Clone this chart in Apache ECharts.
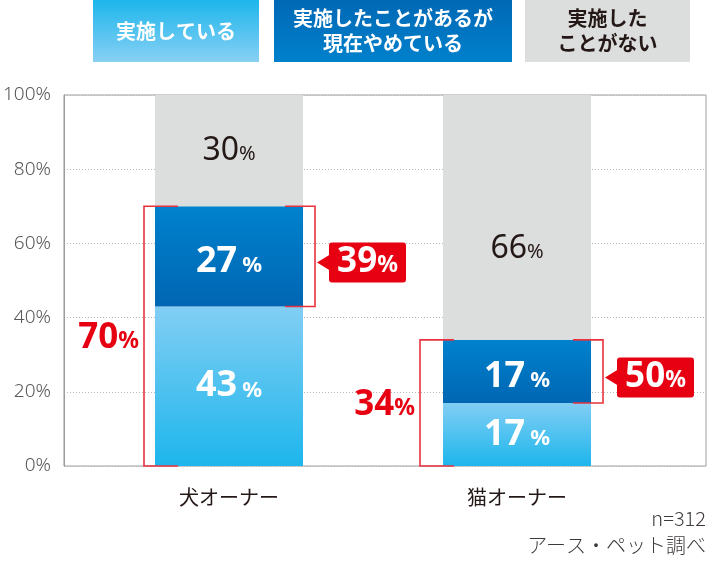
<!DOCTYPE html>
<html>
<head>
<meta charset="utf-8">
<script src="https://cdn.jsdelivr.net/npm/echarts@6/dist/echarts.min.js"></script>
<style>
  html, body { margin: 0; padding: 0; background: #fff; }
  #chart { width: 708px; height: 562px; }
</style>
</head>
<body>
<div id="chart"></div>
<script>
// data
const categories = ['犬オーナー', '猫オーナー'];
const seriesNames = ['実施している', '実施したことがあるが\n現在やめている', '実施した\nことがない'];
const doing = [43, 17];     // 実施している
const stopped = [27, 17];   // 実施したことがあるが現在やめている
const never = [30, 66];     // 実施したことがない
const yTicks = [0, 20, 40, 60, 80, 100];
const sampleNote = 'n=312';
const sourceNote = 'アース・ペット調べ';

const JP = '"Noto Sans CJK JP", "Noto Sans", sans-serif';
const NUM = '"Noto Sans", "Open Sans", sans-serif';
const RED = '#e60012';
const LINE_RED = '#e8333f';
const BAR_W = 148;

// brackets: total of used (left), share of stopped among experienced (right)
const brackets = [];
categories.forEach((c, i) => {
    const total = doing[i] + stopped[i];
    brackets.push([i, 0, total, 0, total]);
    brackets.push([i, doing[i], total, 1, Math.round(stopped[i] / total * 100)]);
});

const whiteRich = {
    n: { fontFamily: NUM, fontSize: 36, fontWeight: 'bold', color: '#fff', padding: [0, 5, 0, 0] },
    p: { fontFamily: NUM, fontSize: 22, fontWeight: 'bold', color: '#fff', padding: [8, 0, 0, 0] }
};
const grayRich = {
    n: { fontFamily: NUM, fontSize: 32, color: '#231815' },
    p: { fontFamily: NUM, fontSize: 20, color: '#231815', padding: [7, 0, 0, 0] }
};
// zrender text elements (custom series) take fill, not color
const redRich = {
    n: { fontFamily: NUM, fontSize: 35, fontWeight: 'bold', fill: RED },
    p: { fontFamily: NUM, fontSize: 23, fontWeight: 'bold', fill: RED, padding: [7, 0, 0, 0] }
};
const calloutRich = {
    n: { fontFamily: NUM, fontSize: 35, fontWeight: 'bold', fill: '#fff' },
    p: { fontFamily: NUM, fontSize: 23, fontWeight: 'bold', fill: '#fff', padding: [7, 0, 0, 0] }
};
const pct = v => '{n|' + v + '}{p|%}';

const LEFT_GAP = [11, 23];

function renderBracket(params, api) {
    const cat = api.value(0);
    const low = api.coord([cat, api.value(1)]);
    const high = api.coord([cat, api.value(2)]);
    const side = api.value(3);
    const label = api.value(4);
    const cx = low[0];
    const half = BAR_W / 2;
    const yMid = (low[1] + high[1]) / 2;
    const children = [];
    if (side === 0) {
        const xv = cx - half - LEFT_GAP[cat];
        const xe = xv + 34;
        children.push({
            type: 'polyline',
            shape: { points: [[xe, low[1]], [xv, low[1]], [xv, high[1]], [xe, high[1]]] },
            style: { stroke: LINE_RED, lineWidth: 1.6, fill: null }
        });
        children.push({
            type: 'text',
            style: { text: pct(label), rich: redRich, x: xv - 5, y: yMid + 2, align: 'right', verticalAlign: 'middle' }
        });
    } else {
        const xv = cx + half + 12;
        const xe = xv - 30;
        children.push({
            type: 'polyline',
            shape: { points: [[xe, low[1]], [xv, low[1]], [xv, high[1]], [xe, high[1]]] },
            style: { stroke: LINE_RED, lineWidth: 1.6, fill: null }
        });
        const bx = xv + 14, bw = 77, bh = 40, cy = yMid + 6;
        children.push({
            type: 'polygon',
            shape: { points: [[xv + 2, cy], [bx + 1, cy - 8], [bx + 1, cy + 8]] },
            style: { fill: RED }
        });
        children.push({
            type: 'rect',
            shape: { x: bx, y: cy - bh / 2, width: bw, height: bh, r: 3 },
            style: { fill: RED }
        });
        children.push({
            type: 'text',
            style: { text: pct(label), rich: calloutRich, x: bx + bw / 2, y: cy, align: 'center', verticalAlign: 'middle' }
        });
    }
    return { type: 'group', children: children };
}

function legendBox(x, w, fill, color, text) {
    return {
        type: 'group',
        children: [
            { type: 'rect', shape: { x: x, y: 0, width: w, height: 62 }, style: { fill: fill } },
            {
                type: 'text',
                style: {
                    text: text, x: x + w / 2, y: 31, align: 'center', verticalAlign: 'middle',
                    fill: color, font: 'bold 20px ' + JP, lineHeight: 25
                }
            }
        ]
    };
}

const chart = echarts.init(document.getElementById('chart'));
chart.setOption({
    animation: false,
    backgroundColor: '#fff',
    grid: [
        { left: 62, right: 2, top: 95, bottom: 96, show: true, borderColor: '#9c9c9c', borderWidth: 1, backgroundColor: 'transparent' },
        { left: 85, right: 47, top: 95, bottom: 96 }
    ],
    xAxis: [
        { type: 'category', gridIndex: 0, data: categories, show: false },
        {
            type: 'category', gridIndex: 1, data: categories,
            axisLine: { show: false }, axisTick: { show: false },
            axisLabel: { color: '#231815', fontSize: 20, fontFamily: JP, margin: 21 }
        }
    ],
    yAxis: [
        {
            type: 'value', gridIndex: 0, min: 0, max: 100, interval: 20,
            axisLine: { show: true, lineStyle: { color: '#9c9c9c' } },
            axisTick: { show: false },
            axisLabel: {
                formatter: v => yTicks.indexOf(v) >= 0 ? v + '%' : '',
                color: '#595757', fontSize: 19, fontFamily: NUM, fontWeight: 300, margin: 13
            },
            splitLine: { show: true, lineStyle: { color: '#b5b5b5', type: [1, 2], width: 1 } }
        },
        { type: 'value', gridIndex: 1, min: 0, max: 100, show: false }
    ],
    series: [
        {
            name: seriesNames[0], type: 'bar', stack: 'a', xAxisIndex: 1, yAxisIndex: 1,
            barWidth: BAR_W, data: doing,
            itemStyle: {
                color: new echarts.graphic.LinearGradient(0, 0, 0, 1, [
                    { offset: 0, color: '#82cef4' }, { offset: 1, color: '#1db6ec' }
                ])
            },
            label: { show: true, position: 'inside', formatter: p => pct(p.value), rich: whiteRich }
        },
        {
            name: seriesNames[1], type: 'bar', stack: 'a', xAxisIndex: 1, yAxisIndex: 1,
            barWidth: BAR_W, data: stopped,
            itemStyle: {
                color: new echarts.graphic.LinearGradient(0, 0, 0, 1, [
                    { offset: 0, color: '#0082cd' }, { offset: 1, color: '#0066b3' }
                ])
            },
            label: { show: true, position: 'inside', offset: [0, 5], formatter: p => pct(p.value), rich: whiteRich }
        },
        {
            name: seriesNames[2], type: 'bar', stack: 'a', xAxisIndex: 1, yAxisIndex: 1,
            barWidth: BAR_W,
            data: never.map((v, i) => i === 1 ? { value: v, label: { offset: [0, 31] } } : v),
            itemStyle: { color: '#dcdddd' },
            label: { show: true, position: 'inside', formatter: p => pct(p.value), rich: grayRich }
        },
        {
            type: 'custom', xAxisIndex: 1, yAxisIndex: 1, silent: true, z: 10, clip: false,
            renderItem: renderBracket, data: brackets
        }
    ],
    graphic: [
        legendBox(93, 166, new echarts.graphic.LinearGradient(0, 0, 0, 1, [
            { offset: 0, color: '#1db6ec' }, { offset: 1, color: '#88d0f4' }
        ]), '#fff', seriesNames[0]),
        legendBox(274, 238, new echarts.graphic.LinearGradient(0, 0, 0, 1, [
            { offset: 0, color: '#0068b5' }, { offset: 1, color: '#0081cc' }
        ]), '#fff', seriesNames[1]),
        legendBox(525, 165, '#dcdddd', '#231815', seriesNames[2]),
        {
            type: 'text', right: 2, top: 508,
            style: { text: sampleNote, fill: '#3e3a39', font: '300 20px ' + JP, align: 'right' }
        },
        {
            type: 'text', right: 2, top: 535,
            style: { text: sourceNote, fill: '#3e3a39', font: '300 20px ' + JP, align: 'right' }
        }
    ]
});
</script>
</body>
</html>
